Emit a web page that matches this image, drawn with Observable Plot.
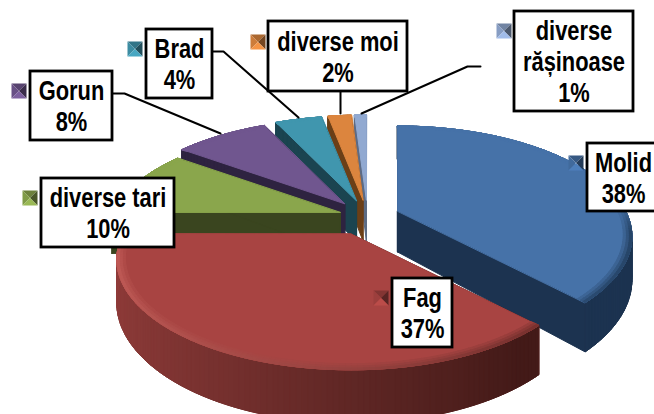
<!DOCTYPE html>
<html><head><meta charset="utf-8">
<script src="https://cdn.jsdelivr.net/npm/d3@7"></script>
<script src="https://cdn.jsdelivr.net/npm/@observablehq/plot@0.6"></script>
<style>html,body{margin:0;padding:0;background:#fff}svg{display:block}</style>
</head><body><div id="chart"></div>
<script>
// data
const species = ["Molid","Fag","diverse tari","Gorun","Brad","diverse moi","diverse răşinoase"];
const shares  = [38,37,10,8,4,2,1];
const labelLines = [["Molid"],["Fag"],["diverse tari"],["Gorun"],["Brad"],["diverse moi"],["diverse","rășinoase"]];

// styles
const topColor  = ["#4672a8","#a84442","#8aa64c","#70568f","#4096ae","#dc853e","#91a9d1"];
const wallLeft  = ["#1a2e47","#903c3a","#3a451f","#2e2340","#1b4450","#6b3f17","#5c6b85"];
const wallRight = ["#1c3350","#431a18","#3a451f","#2e2340","#1b4450","#6b3f17","#5c6b85"];
const rimLeft   = ["#4672a8","#c05a56","#8aa64c","#70568f","#4096ae","#dc853e","#91a9d1"];
const rimRight  = ["#264467","#6a2927","#8aa64c","#70568f","#4096ae","#dc853e","#91a9d1"];
const explodeBy = [.9,1.15,.8,1,1,1,1];
const paintOrder = [6,5,4,3,2,0,1];

// layout of the pie and of the callouts
const pie = {cx:367, cy:216, rx:228, ry:104.6, p:.23, depth:41, explode:36, squash:.46};
const boxes = [[587,143,662,211],[392,278,452,347],[41,178,174,247],[30,71,112,140],[146,29,212,98],[268,21,407,91],[514,11,633,111]];
const keys  = [[568,155],[373,290],[22,190],[11,83],[127,41],[250,34],[496,23]];
const leaders = [
  [[112,93],[124,93],[220,133]],
  [[212,51],[223,51],[298,117]],
  [[340,91],[340,113]],
  [[480,66],[467,66],[361,113]]
];
const narrow = .81;

const polys = [];
const add = (pts, c) => polys.push({pts, c});

function project(a, r, ax, ay, z) {
  const u = r*Math.sin(a), v = -r*Math.cos(a), s = 1/(1 - pie.p*v);
  return [ax + pie.rx*u*s, ay + pie.ry*v*s + z*pie.depth*s];
}
const cum = d3.cumsum(shares), total = cum[cum.length-1];
const ang = i => [(i ? cum[i-1] : 0)/total*2*Math.PI, cum[i]/total*2*Math.PI];
const steps = (a0, a1, n) => d3.range(n+1).map(k => a0 + (a1-a0)*k/n);

for (const i of paintOrder) {
  const [a0, a1] = ang(i), mid = (a0+a1)/2;
  const e = pie.explode*explodeBy[i];
  const ax = pie.cx + e*Math.sin(mid), ay = pie.cy - e*Math.cos(mid)*pie.squash;
  const apexLow = [ax, ay + pie.depth];
  const n = Math.max(4, Math.round(shares[i]*3));
  const as = steps(a0, a1, n);
  const wallMix = a => d3.interpolateRgb(wallLeft[i], wallRight[i])(Math.min(1,(Math.sin(a)+1)/1.6));
  // cut walls
  add([[ax,ay],project(a0,1,ax,ay,0),project(a0,1,ax,ay,1),apexLow], wallMix(a0));
  add([[ax,ay],project(a1,1,ax,ay,0),project(a1,1,ax,ay,1),apexLow], wallMix(a1));
  // outer wall: a backing shape, then strips on it
  add([...as.map(a => project(a,1,ax,ay,0)), ...as.slice().reverse().map(a => project(a,1,ax,ay,1))], wallMix(mid));
  for (let k = 0; k < n; k++) {
    add([project(as[k],1,ax,ay,0),project(as[k+1],1,ax,ay,0),project(as[k+1],1,ax,ay,1),project(as[k],1,ax,ay,1)], wallMix((as[k]+as[k+1])/2));
  }
  // top face
  add([[ax,ay],...as.map(a => project(a,1,ax,ay,0))], topColor[i]);
  // bevelled rim
  const bands = [[.965,.33],[.978,.66],[.99,1]];
  for (const [r, m] of bands) for (let k = 0; k < n; k++) {
    const am = (as[k]+as[k+1])/2, v = -Math.cos(am);
    const w = Math.max(0, Math.min(1, (v+.1)/.3));
    const rim = d3.interpolateRgb(rimLeft[i], rimRight[i])((Math.sin(am)+1)/2);
    add([project(as[k],r,ax,ay,0),project(as[k+1],r,ax,ay,0),project(as[k+1],1,ax,ay,0),project(as[k],1,ax,ay,0)],
        d3.interpolateRgb(topColor[i], rim)(m*w));
  }
}
const piePts = polys.flatMap((p, id) => p.pts.map(([x,y]) => ({x, y, id, c:p.c})));

// legend keys: four little triangles
const keyPts = [];
keys.forEach(([x,y], i) => {
  const sz = 15, cx = x+sz/2, cy = y+sz/2;
  const base = d3.color(topColor[i]);
  const tris = [
    [[x,y],[x+sz,y],[cx,cy], base.darker(.7)],
    [[x,y],[x,y+sz],[cx,cy], base.darker(.2)],
    [[x+sz,y],[x+sz,y+sz],[cx,cy], base.darker(1.8)],
    [[x,y+sz],[x+sz,y+sz],[cx,cy], base.brighter(.3)]
  ];
  tris.forEach((t, k) => t.slice(0,3).forEach(([px,py]) => keyPts.push({x:px, y:py, id:i*10+k, c:t[3].formatHex()})));
});

const boxData = boxes.map((b,i) => ({x1:b[0],y1:b[1],x2:b[2],y2:b[3],
  tx:(b[0]+Math.min(b[2],654))/2, ty:(b[1]+b[3])/2,
  text:[...labelLines[i], shares[i]+"%"].join("\n")}));
boxData[0].tx = 623;
const leaderPts = leaders.flatMap((l, id) => l.map(([x,y]) => ({x,y,id})));

const chart = Plot.plot({
  width:654, height:414, margin:0,
  x:{domain:[0,654],range:[0,654],axis:null},
  y:{domain:[0,414],range:[0,414],axis:null},
  color:{type:"identity"},
  style:{background:"#fff"},
  marks:[
    Plot.line(piePts,{x:"x",y:"y",z:"id",fill:"c",stroke:"c",strokeWidth:1,curve:"linear-closed"}),
    Plot.line(leaderPts,{x:"x",y:"y",z:"id",stroke:"#000",strokeWidth:2,curve:"linear"}),
    Plot.rect(boxData,{x1:"x1",x2:"x2",y1:"y1",y2:"y2",fill:"#fff",stroke:"#000",strokeWidth:2.8}),
    Plot.line(keyPts,{x:"x",y:"y",z:"id",fill:"c",curve:"linear-closed"}),
    Plot.text(boxData,{x:"tx",y:"ty",text:"text",fontSize:27,fontWeight:"bold",lineHeight:1.15,fill:"#000",
      fontFamily:"'Liberation Sans',Arial,sans-serif"})
  ]
});
// the original's type is condensed: narrow each label about its own centre
chart.querySelectorAll("text").forEach(t => {
  const tr = t.getAttribute("transform") || "";
  t.setAttribute("transform", tr + ` scale(${narrow},1)`);
});
document.getElementById("chart").append(chart);
</script>
</body></html>
